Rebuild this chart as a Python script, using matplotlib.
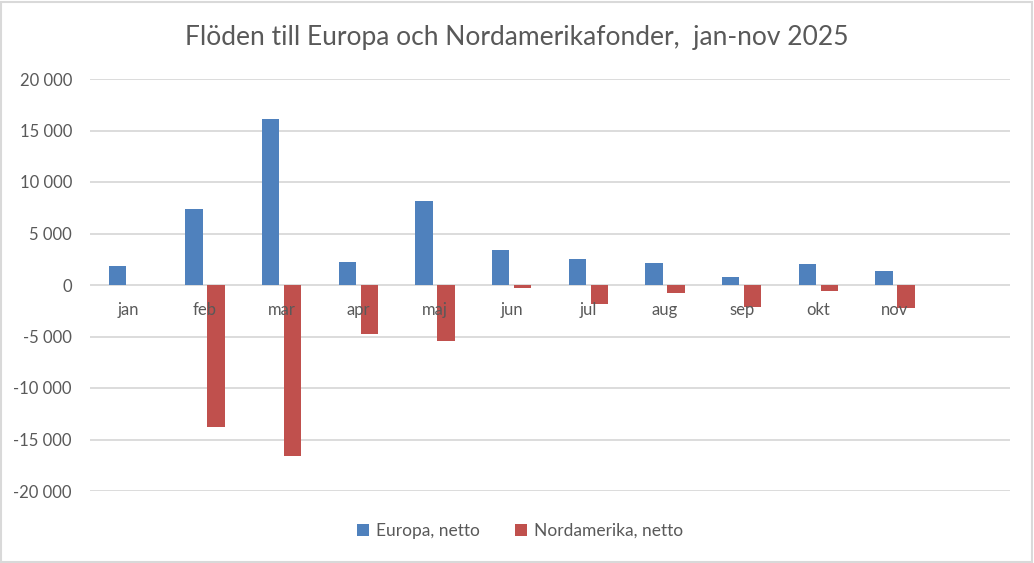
import numpy as np
import matplotlib
matplotlib.use("Agg")
import matplotlib.pyplot as plt
from matplotlib.patches import Rectangle
from matplotlib.ticker import FuncFormatter, MultipleLocator

months = ["jan", "feb", "mar", "apr", "maj", "jun", "jul", "aug", "sep", "okt", "nov"]
europa = [1800, 7350, 16100, 2200, 8200, 3350, 2550, 2100, 800, 2000, 1400]
nordamerika = [0, -13800, -16600, -4800, -5400, -300, -1800, -750, -2100, -550, -2200]
title = "Flöden till Europa och Nordamerikafonder,  jan-nov 2025"
series_names = ["Europa, netto", "Nordamerika, netto"]

BLUE = "#4F81BD"
RED = "#C0504D"
GRID = "#D9D9D9"
TXT = "#595959"

plt.rcParams["font.family"] = ["Lato", "DejaVu Sans"]

fig = plt.figure(figsize=(10.34, 5.63), dpi=100)
ax = fig.add_axes([90 / 1034, 1 - 491 / 563, 920 / 1034, (491 - 79) / 563])

x = np.arange(len(months))
w = 0.222
off = 0.1435
ax.bar(x - off, europa, width=w, color=BLUE, label=series_names[0], zorder=1)
ax.bar(x + off, nordamerika, width=w, color=RED, label=series_names[1], zorder=1)

ax.set_xlim(-0.5, len(months) + 0.5)
ax.set_ylim(-20000, 20000)
ax.yaxis.set_major_locator(MultipleLocator(5000))
ax.yaxis.set_major_formatter(FuncFormatter(lambda v, p: f"{int(v):,}".replace(",", " ")))
ax.yaxis.grid(True, color=GRID, linewidth=1.3)
ax.yaxis.set_zorder(0.5)
ax.tick_params(axis="y", length=0, pad=13, labelsize=12, labelcolor=TXT)

ax.set_xticks(x)
ax.set_xticklabels(months)
ax.spines["bottom"].set_position(("data", 0))
ax.tick_params(axis="x", length=0, pad=12, labelsize=12, labelcolor=TXT)
ax.xaxis.set_zorder(5)
for s in ["top", "right", "left", "bottom"]:
    ax.spines[s].set_visible(False)

fig.text(0.5, 1 - 37 / 563, title, ha="center", va="center", fontsize=19, color=TXT)

fig.legend(loc="center", bbox_to_anchor=(0.503, 1 - 531 / 563), ncol=2, frameon=False,
           fontsize=12.5, labelcolor=TXT, handlelength=0.7, handleheight=0.7,
           handletextpad=0.4, columnspacing=2.0)

fig.patches.append(Rectangle((0.001, 0.002), 0.997, 0.995, transform=fig.transFigure,
                             fill=False, edgecolor=GRID, linewidth=1.5))

fig.savefig("out.png", dpi=100)
